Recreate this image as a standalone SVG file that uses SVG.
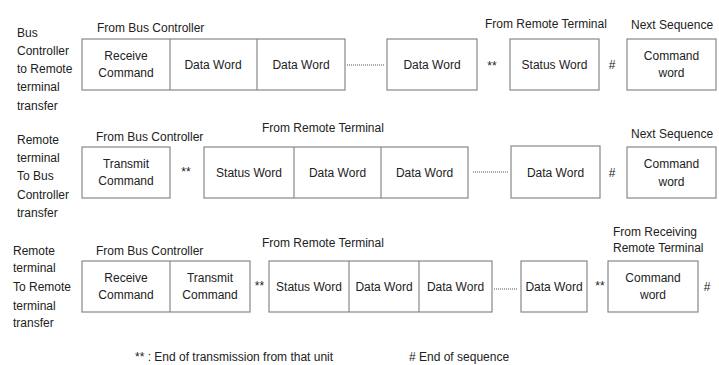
<svg xmlns="http://www.w3.org/2000/svg" width="719" height="365" viewBox="0 0 719 365">
<style>
text{font-family:"Liberation Sans",Arial,sans-serif;font-size:12px;fill:#222}
.c{text-anchor:middle}
.b{fill:#fff;stroke:#888;stroke-width:1.2}
.d{stroke:#888;stroke-width:1.2}
.dot{stroke:#555;stroke-width:1;stroke-dasharray:1 1}
</style>
<rect width="719" height="365" fill="#fff"/>
<!-- Row 1 -->
<g id="row1-label">
<text x="17" y="37">Bus</text><text x="17" y="55">Controller</text><text x="17" y="73">to Remote</text><text x="17" y="91">terminal</text><text x="17" y="110">transfer</text>
</g>
<text x="97" y="32">From Bus Controller</text>
<text x="485" y="28">From Remote Terminal</text>
<text x="631" y="29">Next Sequence</text>
<g id="r1-bc">
<rect class="b" x="82" y="39" width="263" height="51"/>
<line class="d" x1="170" y1="39" x2="170" y2="90"/><line class="d" x1="257" y1="39" x2="257" y2="90"/>
<text class="c" x="126" y="60">Receive</text><text class="c" x="126" y="77">Command</text>
<text class="c" x="213" y="69">Data Word</text>
<text class="c" x="301" y="69">Data Word</text>
</g>
<g id="r1-dw"><rect class="b" x="387" y="39" width="90" height="51"/><text class="c" x="432" y="69">Data Word</text></g>
<text class="c" x="492" y="70">**</text>
<g id="r1-sw"><rect class="b" x="510" y="39" width="89" height="51"/><text class="c" x="554.5" y="69">Status Word</text></g>
<text class="c" x="612" y="69">#</text>
<g id="r1-cw"><rect class="b" x="627" y="39" width="89" height="51"/><text class="c" x="671.5" y="60">Command</text><text class="c" x="671.5" y="77">word</text></g>
<!-- Row 2 -->
<g id="row2-label">
<text x="17" y="144">Remote</text><text x="17" y="162">terminal</text><text x="17" y="180">To Bus</text><text x="17" y="199">Controller</text><text x="17" y="217">transfer</text>
</g>
<text x="96" y="141">From Bus Controller</text>
<text x="262" y="132">From Remote Terminal</text>
<text x="631" y="138">Next Sequence</text>
<g id="r2-tc"><rect class="b" x="82" y="147" width="88" height="51"/><text class="c" x="126" y="168">Transmit</text><text class="c" x="126" y="185">Command</text></g>
<text class="c" x="186" y="176">**</text>
<g id="r2-rt">
<rect class="b" x="204" y="147" width="264" height="51"/>
<line class="d" x1="294" y1="147" x2="294" y2="198"/><line class="d" x1="381" y1="147" x2="381" y2="198"/>
<text class="c" x="249" y="177">Status Word</text>
<text class="c" x="337.5" y="177">Data Word</text>
<text class="c" x="424.5" y="177">Data Word</text>
</g>
<g id="r2-dw"><rect class="b" x="511" y="146" width="89" height="52"/><text class="c" x="555.5" y="177">Data Word</text></g>
<text class="c" x="612" y="177">#</text>
<g id="r2-cw"><rect class="b" x="627" y="147" width="89" height="51"/><text class="c" x="671.5" y="168">Command</text><text class="c" x="671.5" y="186">word</text></g>
<!-- Row 3 -->
<g id="row3-label">
<text x="13" y="255">Remote</text><text x="13" y="272">terminal</text><text x="13" y="291">To Remote</text><text x="13" y="310">terminal</text><text x="13" y="327">transfer</text>
</g>
<text x="96" y="255">From Bus Controller</text>
<text x="262" y="247">From Remote Terminal</text>
<text x="613" y="236">From Receiving</text>
<text x="613" y="252">Remote Terminal</text>
<g id="r3-bc">
<rect class="b" x="82" y="261" width="168" height="51"/>
<line class="d" x1="170" y1="261" x2="170" y2="312"/>
<text class="c" x="126" y="282">Receive</text><text class="c" x="126" y="299">Command</text>
<text class="c" x="210" y="282">Transmit</text><text class="c" x="210" y="299">Command</text>
</g>
<text class="c" x="259.5" y="290">**</text>
<g id="r3-rt">
<rect class="b" x="269" y="261" width="223" height="51"/>
<line class="d" x1="349" y1="261" x2="349" y2="312"/><line class="d" x1="419" y1="261" x2="419" y2="312"/>
<text class="c" x="309" y="291">Status Word</text>
<text class="c" x="384" y="291">Data Word</text>
<text class="c" x="455.5" y="291">Data Word</text>
</g>
<g id="r3-dw"><rect class="b" x="521" y="261" width="66" height="51"/><text class="c" x="554" y="291">Data Word</text></g>
<text class="c" x="600" y="290">**</text>
<g id="r3-cw"><rect class="b" x="608" y="261" width="90" height="51"/><text class="c" x="653" y="282">Command</text><text class="c" x="653" y="299">word</text></g>
<text class="c" x="707" y="291">#</text>
<!-- connectors (dotted continuation lines) -->
<g id="connectors">
<line class="dot" x1="347" y1="65" x2="384" y2="65"/>
<line class="dot" x1="473" y1="172" x2="509" y2="172"/>
<line class="dot" x1="494" y1="289" x2="518" y2="289"/>
</g>
<!-- legend -->
<text x="135" y="361">** : End of transmission from that unit</text>
<text x="409" y="361"># End of sequence</text>
</svg>
